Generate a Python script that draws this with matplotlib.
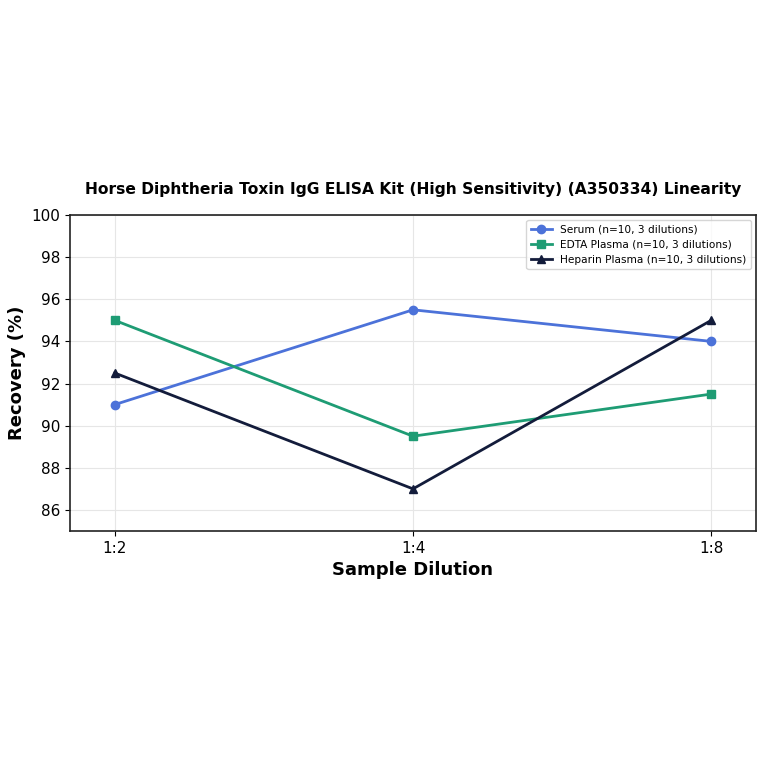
import matplotlib.pyplot as plt

# data
dilutions = ["1:2", "1:4", "1:8"]
serum = [91.0, 95.5, 94.0]
edta = [95.0, 89.5, 91.5]
heparin = [92.5, 87.0, 95.0]

fig = plt.figure(figsize=(7.64, 7.64), dpi=100)
ax = fig.add_axes([70/764, 1 - 531/764, (756-70)/764, (531-215)/764])

x = range(len(dilutions))
ax.plot(x, serum, color="#4C72D9", marker="o", lw=2, ms=6, label="Serum (n=10, 3 dilutions)")
ax.plot(x, edta, color="#1E9C74", marker="s", lw=2, ms=6, label="EDTA Plasma (n=10, 3 dilutions)")
ax.plot(x, heparin, color="#131C3B", marker="^", lw=2, ms=6, label="Heparin Plasma (n=10, 3 dilutions)")

ax.set_xticks(list(x))
ax.set_xticklabels(dilutions, fontsize=11)
ax.set_xlim(-0.15, 2.15)
ax.set_ylim(85, 100)
ax.set_yticks([86, 88, 90, 92, 94, 96, 98, 100])
ax.tick_params(axis="y", labelsize=11)
ax.grid(True, color="#e6e6e6", lw=0.8)
ax.set_axisbelow(True)
for s in ax.spines.values():
    s.set_color("#222222")
    s.set_linewidth(1.2)

ax.set_xlabel("Sample Dilution", fontsize=13, fontweight="bold")
ax.set_ylabel("Recovery (%)", fontsize=13, fontweight="bold")
ax.set_title("Horse Diphtheria Toxin IgG ELISA Kit (High Sensitivity) (A350334) Linearity",
             fontsize=11.2, fontweight="bold", pad=15)
ax.legend(loc="upper right", fontsize=7.6)

fig.savefig("out.png", dpi=100)
